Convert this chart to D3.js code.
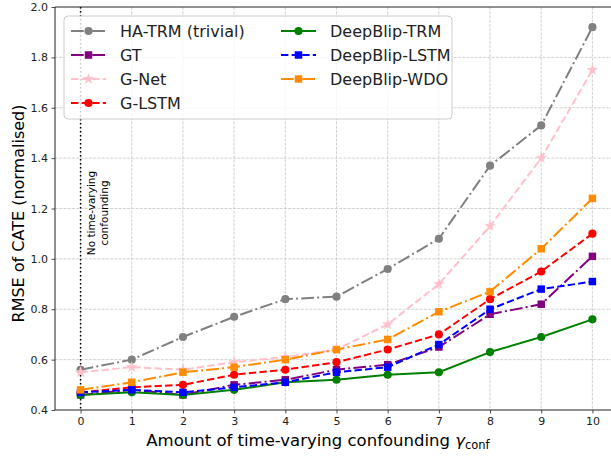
<!DOCTYPE html>
<html>
<head>
<meta charset="utf-8">
<script src="https://cdn.jsdelivr.net/npm/d3@7/dist/d3.min.js"></script>
<style>
  html, body { margin: 0; padding: 0; background: #fff; }
  svg { display: block; font-family: "DejaVu Sans", sans-serif; }
</style>
</head>
<body>
<svg id="chart" width="611" height="456"></svg>
<script>
// Confounding strength on the x axis
const gammaValues = [0, 1, 2, 3, 4, 5, 6, 7, 8, 9, 10];
const yTicks = [0.4, 0.6, 0.8, 1.0, 1.2, 1.4, 1.6, 1.8, 2.0];

// RMSE of CATE (normalised) per method
const haTrm        = [0.56, 0.60, 0.69, 0.77, 0.84, 0.85, 0.96, 1.08, 1.37, 1.53, 1.92];
const gt           = [0.46, 0.48, 0.46, 0.50, 0.52, 0.56, 0.58, 0.65, 0.78, 0.82, 1.01];
const gNet         = [0.55, 0.57, 0.56, 0.59, 0.61, 0.64, 0.74, 0.90, 1.13, 1.40, 1.75];
const gLstm        = [0.47, 0.49, 0.50, 0.54, 0.56, 0.59, 0.64, 0.70, 0.84, 0.95, 1.10];
const deepBlipTrm  = [0.46, 0.47, 0.46, 0.48, 0.51, 0.52, 0.54, 0.55, 0.63, 0.69, 0.76];
const deepBlipLstm = [0.47, 0.48, 0.47, 0.49, 0.51, 0.55, 0.57, 0.66, 0.80, 0.88, 0.91];
const deepBlipWdo  = [0.48, 0.51, 0.55, 0.57, 0.60, 0.64, 0.68, 0.79, 0.87, 1.04, 1.24];

const seriesNames = ["HA-TRM (trivial)", "GT", "G-Net", "G-LSTM", "DeepBlip-TRM", "DeepBlip-LSTM", "DeepBlip-WDO"];
const seriesValues = [haTrm, gt, gNet, gLstm, deepBlipTrm, deepBlipLstm, deepBlipWdo];

const DASH_DOT = "12.8,3.2,2,3.2";
const DASHED = "7.4,3.2";
const styles = [
  { color: "#808080", dash: DASH_DOT, marker: d3.symbolCircle, size: 52 },
  { color: "#800080", dash: DASH_DOT, marker: d3.symbolSquare, size: 56 },
  { color: "#ffc0cb", dash: DASHED,   marker: d3.symbolStar,   size: 42 },
  { color: "#ff0000", dash: DASHED,   marker: d3.symbolCircle, size: 52 },
  { color: "#008000", dash: null,     marker: d3.symbolCircle, size: 52 },
  { color: "#0000ff", dash: DASHED,   marker: d3.symbolSquare, size: 56 },
  { color: "#ff8c00", dash: DASH_DOT, marker: d3.symbolSquare, size: 56 }
];

const svg = d3.select("#chart");
const margin = { left: 55, top: 7, bottom: 410 };
const plotRight = 618;

const x = d3.scaleLinear().domain([-0.5, 10.5]).range([margin.left, plotRight]);
const y = d3.scaleLinear().domain([0.4, 2.0]).range([margin.bottom, margin.top]);

svg.append("defs").append("clipPath").attr("id", "plot-clip")
  .append("rect")
  .attr("x", margin.left).attr("y", margin.top)
  .attr("width", plotRight - margin.left).attr("height", margin.bottom - margin.top);

// Grid
const grid = svg.append("g").attr("stroke", "#b0b0b0").attr("stroke-width", 0.8)
  .attr("stroke-dasharray", "2.96,1.28").attr("opacity", 0.7);
grid.selectAll("line.gx").data(gammaValues).join("line")
  .attr("x1", d => x(d)).attr("x2", d => x(d))
  .attr("y1", margin.top).attr("y2", margin.bottom);
grid.selectAll("line.gy").data(yTicks.slice(1, -1)).join("line")
  .attr("x1", margin.left).attr("x2", plotRight)
  .attr("y1", d => y(d)).attr("y2", d => y(d));

// Reference line at zero confounding
svg.append("line")
  .attr("x1", x(0)).attr("x2", x(0))
  .attr("y1", margin.top).attr("y2", margin.bottom)
  .attr("stroke", "#000").attr("stroke-width", 1.5)
  .attr("stroke-dasharray", "1.5,2.5");

const note = svg.append("text")
  .attr("transform", `translate(${x(0) + 21},213) rotate(-90)`)
  .attr("text-anchor", "middle")
  .attr("font-size", "10.5px").attr("fill", "#000");
note.append("tspan").attr("x", 0).attr("dy", "-0.65em").text("No time-varying");
note.append("tspan").attr("x", 0).attr("dy", "1.25em").text("confounding");

// Series
const plot = svg.append("g").attr("clip-path", "url(#plot-clip)");
const lineGen = d3.line().x((d, i) => x(gammaValues[i])).y(d => y(d));

seriesValues.forEach((vals, k) => {
  const st = styles[k];
  const g = plot.append("g");
  g.append("path")
    .attr("d", lineGen(vals))
    .attr("fill", "none")
    .attr("stroke", st.color)
    .attr("stroke-width", 2)
    .attr("stroke-dasharray", st.dash)
    .attr("stroke-linejoin", "round");
  g.selectAll("path.m").data(vals).join("path")
    .attr("class", "m")
    .attr("transform", (d, i) => `translate(${x(gammaValues[i])},${y(d)})`)
    .attr("d", d3.symbol().type(st.marker).size(st.size))
    .attr("fill", st.color);
});

// Axes
const xAxis = d3.axisBottom(x).tickValues(gammaValues).tickSize(3.5).tickPadding(3.5).tickFormat(d3.format("d"));
const yAxis = d3.axisLeft(y).tickValues(yTicks).tickSize(3.5).tickPadding(3.5).tickFormat(d3.format(".1f"));

const gx = svg.append("g").attr("transform", `translate(0,${margin.bottom})`).call(xAxis);
const gy = svg.append("g").attr("transform", `translate(${margin.left},0)`).call(yAxis);
[gx, gy].forEach(g => {
  g.select(".domain").remove();
  g.selectAll(".tick line").attr("stroke", "#222").attr("stroke-width", 0.8);
  g.selectAll(".tick text").attr("font-size", "11px").attr("fill", "#222")
    .attr("font-family", "DejaVu Sans, sans-serif");
});

// Spines
const spines = svg.append("g").attr("stroke", "#222").attr("stroke-width", 1);
spines.append("line").attr("x1", margin.left).attr("x2", margin.left).attr("y1", margin.top).attr("y2", margin.bottom);
spines.append("line").attr("x1", margin.left).attr("x2", plotRight).attr("y1", margin.bottom).attr("y2", margin.bottom);
spines.append("line").attr("x1", margin.left).attr("x2", plotRight).attr("y1", margin.top).attr("y2", margin.top);
spines.append("line").attr("x1", plotRight).attr("x2", plotRight).attr("y1", margin.top).attr("y2", margin.bottom);

// Axis labels
const xl = svg.append("text").attr("x", 318).attr("y", 446)
  .attr("text-anchor", "middle").attr("font-size", "16.5px").attr("fill", "#000");
xl.append("tspan").text("Amount of time-varying confounding ");
xl.append("tspan").attr("font-style", "italic").text("γ");
xl.append("tspan").attr("font-size", "11.5px").attr("dy", "3").text("conf");

svg.append("text")
  .attr("transform", `translate(24,${(margin.top + margin.bottom) / 2 + 5}) rotate(-90)`)
  .attr("text-anchor", "middle").attr("font-size", "16px").attr("fill", "#000")
  .text("RMSE of CATE (normalised)");

// Legend
const legend = svg.append("g");
legend.append("rect")
  .attr("x", 64).attr("y", 16).attr("width", 388).attr("height", 103)
  .attr("rx", 4).attr("fill", "#fff").attr("fill-opacity", 0.8)
  .attr("stroke", "#ccc").attr("stroke-width", 1);

const rowY = [31, 55, 79, 103];
const cols = [{ hx: 71, tx: 120 }, { hx: 281, tx: 330 }];
seriesNames.forEach((name, k) => {
  const col = k < 4 ? cols[0] : cols[1];
  const ry = rowY[k < 4 ? k : k - 4];
  const st = styles[k];
  legend.append("line")
    .attr("x1", col.hx).attr("x2", col.hx + 35)
    .attr("y1", ry).attr("y2", ry)
    .attr("stroke", st.color).attr("stroke-width", 2)
    .attr("stroke-dasharray", st.dash);
  legend.append("path")
    .attr("transform", `translate(${col.hx + 17.5},${ry})`)
    .attr("d", d3.symbol().type(st.marker).size(st.size))
    .attr("fill", st.color);
  legend.append("text")
    .attr("x", col.tx).attr("y", ry).attr("dy", "0.35em")
    .attr("font-size", "16px").attr("fill", "#222")
    .text(name);
});
</script>
</body>
</html>
